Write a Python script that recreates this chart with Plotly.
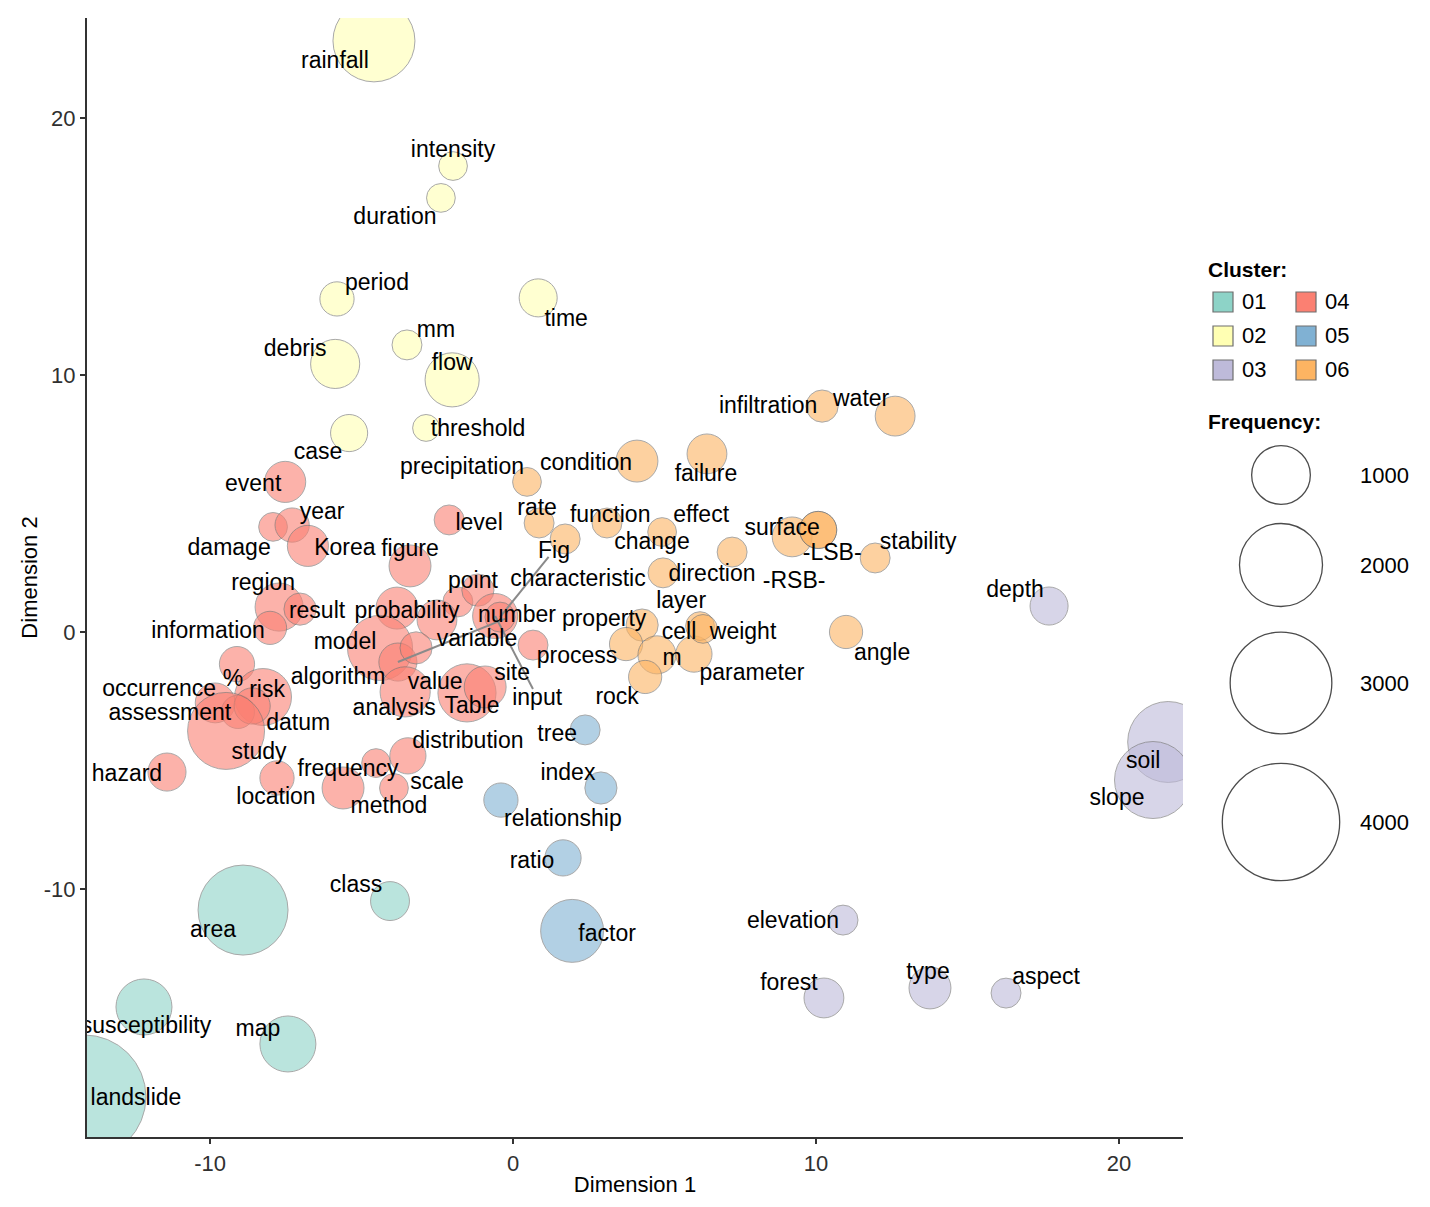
import numpy as np
import plotly.graph_objects as go

# ---------------- data ----------------
words = ["area", "class", "susceptibility", "map", "landslide",
         "rainfall", "intensity", "duration", "period", "mm", "debris", "flow", "case", "threshold", "time",
         "depth", "soil", "slope", "elevation", "forest", "type", "aspect",
         "event", "year", "damage", "Korea", "figure", "level", "region", "result", "information",
         "probability", "point", "characteristic", "variable", "model", "number", "algorithm",
         "analysis", "Table", "value", "site", "input", "Fig", "%", "risk", "occurrence",
         "assessment", "datum", "study", "hazard", "location", "frequency", "scale",
         "distribution", "method",
         "tree", "index", "relationship", "ratio", "factor",
         "precipitation", "rate", "function", "change", "condition", "effect", "failure", "layer",
         "direction", "surface", "-LSB-", "-RSB-", "stability", "infiltration", "water",
         "property", "process", "m", "parameter", "cell", "weight", "rock", "angle"]

clusters = ["01"] * 5 + ["02"] * 10 + ["03"] * 7 + ["04"] * 34 + ["05"] * 5 + ["06"] * 23

dim1 = [-8.91, -4.06, -12.18, -7.43, -14.16,
        -4.59, -1.98, -2.38, -5.81, -3.50, -5.87, -2.01, -5.41, -2.87, 0.83,
        17.69, 21.62, 21.12, 10.89, 10.26, 13.76, 16.27,
        -7.52, -7.92, -7.29, -6.77, -3.40, -2.11, -7.72, -7.03, -8.02,
        -3.83, -1.82, -1.16, -2.51, -4.39, -3.80, -3.20,
        -3.56, -1.52, -0.92, 0.66, -0.59, -0.43, -9.11, -8.25, -9.83,
        -9.08, -8.61, -9.47, -11.42, -7.79, -5.61, -4.52,
        -3.47, -3.93,
        2.38, 2.90, -0.40, 1.65, 1.95,
        0.46, 0.86, 1.72, 3.10, 4.09, 4.92, 6.40, 7.23,
        4.95, 9.21, 10.07, 10.07, 11.95, 10.20, 12.61,
        4.26, 3.73, 4.75, 5.97, 6.17, 6.27, 4.36, 10.99]

dim2 = [-10.82, -10.47, -14.59, -16.03, -18.09,
        23.00, 18.13, 16.89, 12.96, 11.17, 10.43, 9.81, 7.74, 7.94, 13.00,
        1.01, -4.28, -5.76, -11.21, -14.24, -13.85, -14.05,
        5.84, 4.09, 4.16, 3.35, 2.57, 4.36, 0.97, 0.89, 0.16,
        0.93, 1.17, 1.63, 0.47, -0.62, -1.17, -0.62,
        -2.33, -2.37, -2.14, -0.51, 0.62, 0.58, -1.25, -2.53, -2.76,
        -3.11, -2.88, -3.85, -5.45, -5.68, -6.07, -5.10,
        -4.82, -6.07,
        -3.81, -6.07, -6.54, -8.79, -11.63,
        5.84, 4.24, 3.62, 4.24, 6.65, 3.89, 6.93, 3.11,
        2.30, 3.70, 3.97, 3.97, 2.88, 8.79, 8.40,
        0.27, -0.47, -0.89, -0.86, 0.23, 0.12, -1.75, 0.00]

frequency = [2350, 440, 910, 910, 4460,
             1950, 240, 240, 340, 260, 700, 850, 400, 210, 420,
             420, 1900, 1720, 260, 460, 510, 260,
             490, 240, 340, 490, 510, 260, 670, 300, 320,
             510, 260, 300, 460, 1230, 420, 300,
             730, 980, 510, 260, 590, 260, 360, 940, 460,
             320, 380, 1720, 420, 340, 510, 240,
             380, 240,
             260, 300, 340, 380, 1150,
             240, 260, 260, 260, 510, 240, 460, 260,
             260, 460, 400, 400, 260, 300, 460,
             300, 320, 420, 380, 240, 240, 320, 320]

cluster_ids = ["01", "02", "03", "04", "05", "06"]
freq_breaks = [1000, 2000, 3000, 4000]
tick_vals = [-10, 0, 10, 20]
tick_text = ["-10", "0", "10", "20"]

# ---------------- styling / layout ----------------
palette = {"01": "#8DD3C7", "02": "#FFFFB3", "03": "#BEBADA",
           "04": "#FB8072", "05": "#80B1D3", "06": "#FDB462"}

# label offsets (pixels, right / down) as placed by the repel layout
label_offset = {
    "area": (-30, 19), "class": (-34, -17), "susceptibility": (2, 18), "map": (-30, -16),
    "landslide": (52, 0),
    "rainfall": (-39, 19), "intensity": (0, -17), "duration": (-46, 18), "period": (40, -17),
    "mm": (29, -16), "debris": (-40, -16), "flow": (0, -18), "case": (-31, 18),
    "threshold": (52, 0), "time": (28, 20),
    "depth": (-34, -17), "soil": (-25, 18), "slope": (-36, 17), "elevation": (-50, 0),
    "forest": (-35, -16), "type": (-2, -17), "aspect": (40, -17),
    "event": (-32, 1), "year": (49, -16), "damage": (-63, 22), "Korea": (37, 1),
    "figure": (0, -18), "level": (30, 2), "region": (-16, -25), "result": (17, 1),
    "information": (-62, 2), "probability": (10, 2), "point": (15, -22),
    "characteristic": (100, -12), "variable": (40, 18), "model": (-35, -7),
    "number": (119, -48), "algorithm": (-78, 28), "analysis": (-11, 15), "Table": (5, 12),
    "value": (-50, -6), "site": (-21, 27), "input": (42, 81), "Fig": (54, -67),
    "%": (-4, 14), "risk": (4, -8), "occurrence": (-56, -15), "assessment": (-68, 0),
    "datum": (46, 16), "study": (33, 20), "hazard": (-40, 1), "location": (-1, 18),
    "frequency": (5, -20), "scale": (61, 18), "distribution": (60, -16), "method": (-5, 17),
    "tree": (-28, 3), "index": (-33, -16), "relationship": (62, 18), "ratio": (-31, 2),
    "factor": (35, 2),
    "precipitation": (-65, -16), "rate": (-2, -16), "function": (45, -25), "change": (45, 18),
    "condition": (-51, 1), "effect": (39, -18), "failure": (-1, 19), "layer": (-51, 48),
    "direction": (49, 0), "surface": (-10, -10), "-LSB-": (14, 22), "-RSB-": (-24, 50),
    "stability": (43, -17), "infiltration": (-54, -1), "water": (-34, -18),
    "property": (-38, -7), "process": (-49, 11), "m": (15, 2), "parameter": (58, 18),
    "cell": (-21, 5), "weight": (40, 2), "rock": (-28, 19), "angle": (36, 20),
}
segment_words = ["number", "Fig", "input"]
LABEL_DY = 2  # small baseline correction (px)

W, H = 1430, 1207
L, R, T, B = 87, 1183, 18, 1137
x_range = [-14.06, 22.11]
y_range = [-19.65, 23.89]
ppx = (R - L) / (x_range[1] - x_range[0])
ppy = (B - T) / (y_range[1] - y_range[0])

FONT = "Liberation Sans, Arial, sans-serif"


def diam(f):
    return 58.7 * np.sqrt(np.asarray(f, dtype=float) / 1000.0)


d1 = np.array(dim1)
d2 = np.array(dim2)
fq = np.array(frequency)
cl = np.array(clusters)
wd = np.array(words)

fig = go.Figure()

# bubbles
for c in cluster_ids:
    m = cl == c
    fig.add_trace(go.Scatter(
        x=d1[m], y=d2[m], mode="markers",
        marker=dict(size=diam(fq[m]), sizemode="diameter", color=palette[c],
                    opacity=0.6, line=dict(color="#707070", width=1)),
        text=wd[m], hoverinfo="text", cliponaxis=True, showlegend=False,
        xaxis="x", yaxis="y"))

# repel segments
sx, sy = [], []
for w in segment_words:
    i = words.index(w)
    dx, dy = label_offset[w]
    sx += [dim1[i], dim1[i] + 0.9 * dx / ppx, None]
    sy += [dim2[i], dim2[i] - 0.9 * dy / ppy, None]
fig.add_trace(go.Scatter(x=sx, y=sy, mode="lines",
                         line=dict(color="#8a8a8a", width=2),
                         hoverinfo="skip", showlegend=False, cliponaxis=True))

# labels
lx = [dim1[i] + label_offset[w][0] / ppx for i, w in enumerate(words)]
ly = [dim2[i] - (label_offset[w][1] + LABEL_DY) / ppy for i, w in enumerate(words)]
fig.add_trace(go.Scatter(x=lx, y=ly, mode="text", text=words,
                         textposition="middle center",
                         textfont=dict(family=FONT, size=23, color="black"),
                         hoverinfo="skip", showlegend=False, cliponaxis=True))

# ---------------- custom legend (pixel coordinate axes) ----------------
LX0 = 1188
sq_x = [1223, 1223, 1223, 1306, 1306, 1306]
sq_y = [302, 336, 370, 302, 336, 370]
fig.add_trace(go.Scatter(
    x=sq_x, y=sq_y, mode="markers",
    marker=dict(symbol="square", size=20, color=[palette[c] for c in cluster_ids],
                line=dict(color="#6e6e6e", width=1.2)),
    xaxis="x2", yaxis="y2", hoverinfo="skip", showlegend=False, cliponaxis=False))
fig.add_trace(go.Scatter(
    x=[s + 19 for s in sq_x], y=[v + 1 for v in sq_y], mode="text", text=cluster_ids,
    textposition="middle right", textfont=dict(family=FONT, size=22, color="black"),
    xaxis="x2", yaxis="y2", hoverinfo="skip", showlegend=False, cliponaxis=False))

circ_y = [475, 565, 683, 822]
fig.add_trace(go.Scatter(
    x=[1281] * 4, y=circ_y, mode="markers",
    marker=dict(size=diam(freq_breaks), sizemode="diameter", color="white",
                line=dict(color="black", width=1.3)),
    xaxis="x2", yaxis="y2", hoverinfo="skip", showlegend=False, cliponaxis=False))
fig.add_trace(go.Scatter(
    x=[1360] * 4, y=[v + 2 for v in circ_y], mode="text", text=[str(b) for b in freq_breaks],
    textposition="middle right", textfont=dict(family=FONT, size=22, color="black"),
    xaxis="x2", yaxis="y2", hoverinfo="skip", showlegend=False, cliponaxis=False))

annotations = [
    dict(x=1206, y=269, xref="x2", yref="y2", text="<b>Cluster:</b>", showarrow=False,
         xanchor="left", yanchor="middle", font=dict(family=FONT, size=21, color="black")),
    dict(x=1206, y=421, xref="x2", yref="y2", text="<b>Frequency:</b>", showarrow=False,
         xanchor="left", yanchor="middle", font=dict(family=FONT, size=21, color="black")),
]

axis_common = dict(showgrid=False, zeroline=False, showline=True, linecolor="#333333",
                   linewidth=2.2, ticks="outside", ticklen=5, tickwidth=1.5,
                   tickcolor="#333333", tickfont=dict(family=FONT, size=22, color="#303030"),
                   automargin=False, mirror=False,
                   tickmode="array", tickvals=tick_vals, ticktext=tick_text)

fig.update_layout(
    width=W, height=H,
    margin=dict(l=0, r=0, t=0, b=0, pad=0),
    paper_bgcolor="white", plot_bgcolor="white",
    showlegend=False,
    xaxis=dict(domain=[L / W, R / W], range=x_range, anchor="y",
               title=dict(text="Dimension 1", standoff=2,
                          font=dict(family=FONT, size=22, color="black")),
               **axis_common),
    yaxis=dict(domain=[1 - B / H, 1 - T / H], range=y_range, anchor="x",
               title=dict(text="Dimension 2", standoff=0,
                          font=dict(family=FONT, size=22, color="black")),
               **axis_common),
    xaxis2=dict(domain=[LX0 / W, 1], range=[LX0, W], visible=False, anchor="y2",
                fixedrange=True),
    yaxis2=dict(domain=[0, 1], range=[H, 0], visible=False, anchor="x2",
                fixedrange=True),
    annotations=annotations,
)

fig.write_html("out.html")
